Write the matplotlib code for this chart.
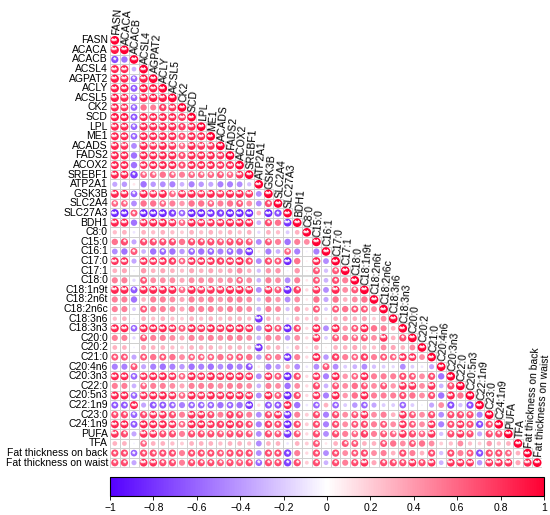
import numpy as np
import matplotlib
matplotlib.use('Agg')
import matplotlib.pyplot as plt
from matplotlib.patches import Circle, Rectangle
from matplotlib.colors import LinearSegmentedColormap, Normalize
from matplotlib.cm import ScalarMappable

plt.rcParams['font.family'] = ['Liberation Sans', 'DejaVu Sans']

# variable names (rows top->bottom, columns left->right)
labels = ['FASN', 'ACACA', 'ACACB', 'ACSL4', 'AGPAT2', 'ACLY', 'ACSL5', 'CK2', 'SCD', 'LPL',
          'ME1', 'ACADS', 'FADS2', 'ACOX2', 'SREBF1', 'ATP2A1', 'GSK3B', 'SLC2A4', 'SLC27A3',
          'BDH1', 'C8:0', 'C15:0', 'C16:1', 'C17:0', 'C17:1', 'C18:0', 'C18:1n9t', 'C18:2n6t',
          'C18:2n6c', 'C18:3n6', 'C18:3n3', 'C20:0', 'C20:2', 'C21:0', 'C20:4n6', 'C20:3n3',
          'C22:0', 'C20:5n3', 'C22:1n9', 'C23:0', 'C24:1n9', 'PUFA', 'TFA',
          'Fat thickness on back', 'Fat thickness on waist']

# lower triangle of the correlation matrix (row i has i+1 values)
corr_rows = [
    [1],
    [0.9, 1],
    [-0.7, -0.55, 1],
    [0.85, 0.85, -0.3, 1],
    [0.9, 0.85, -0.6, 0.9, 1],
    [0.9, 0.9, -0.65, 0.9, 0.9, 1],
    [0.9, 0.85, -0.6, 0.85, 0.9, 0.9, 1],
    [0.85, 0.8, -0.6, 0.55, 0.5, 0.75, 0.8, 1],
    [0.9, 0.9, -0.65, 0.85, 0.85, 0.85, 0.85, 0.8, 1],
    [0.85, 0.85, -0.6, 0.85, 0.85, 0.85, 0.85, 0.75, 0.85, 1],
    [0.85, 0.85, -0.6, 0.85, 0.85, 0.85, 0.85, 0.7, 0.85, 0.85, 1],
    [0.85, 0.8, -0.45, 0.85, 0.8, 0.85, 0.8, 0.6, 0.85, 0.8, 0.8, 1],
    [0.85, 0.85, -0.55, 0.85, 0.85, 0.85, 0.85, 0.7, 0.85, 0.85, 0.85, 0.8, 1],
    [0.85, 0.85, -0.55, 0.8, 0.85, 0.85, 0.85, 0.7, 0.85, 0.85, 0.85, 0.8, 0.85, 1],
    [0.85, 0.85, -0.75, 0.6, 0.6, 0.55, 0.6, 0.5, 0.6, 0.6, 0.6, 0.65, 0.6, 0.8, 1],
    [-0.35, -0.4, 0.1, -0.55, -0.4, -0.45, -0.5, -0.3, -0.5, -0.4, -0.35, -0.5, -0.5, -0.45,
     -0.25, 1],
    [0.85, 0.85, -0.6, 0.85, 0.8, 0.85, 0.6, 0.8, 0.85, 0.8, 0.85, 0.8, 0.85, 0.85, 0.8,
     -0.45, 1],
    [0.6, 0.6, -0.45, 0.55, 0.55, 0.6, 0.5, 0.4, 0.55, 0.55, 0.6, 0.5, 0.55, 0.65, 0.45,
     -0.45, 0.7, 1],
    [-0.85, -0.85, 0.65, -0.85, -0.85, -0.85, -0.75, -0.6, -0.85, -0.85, -0.8, -0.75, -0.85,
     -0.85, -0.85, 0.3, -0.85, -0.7, 1],
    [0.85, 0.85, -0.55, 0.8, 0.85, 0.85, 0.8, 0.6, 0.85, 0.8, 0.8, 0.8, 0.85, 0.85, 0.85,
     -0.3, 0.7, 0.55, -0.8, 1],
    [0.25, 0.3, -0.1, 0.3, 0.25, 0.3, 0.25, 0.2, 0.3, 0.25, 0.3, 0.25, 0.3, 0.25, 0.3,
     -0.15, 0.3, 0.25, -0.2, 0.3, 1],
    [0.55, 0.7, -0.35, 0.7, 0.7, 0.7, 0.7, 0.55, 0.7, 0.7, 0.7, 0.65, 0.7, 0.7, 0.65,
     -0.45, 0.65, 0.5, -0.55, 0.5, 0.45, 1],
    [-0.45, -0.55, 0.65, -0.3, -0.55, -0.6, -0.55, -0.4, -0.6, -0.55, -0.6, -0.5, -0.6, -0.55,
     -0.8, 0.1, -0.5, -0.3, 0.6, -0.5, -0.05, -0.5, 1],
    [0.8, 0.8, -0.35, 0.8, 0.8, 0.8, 0.75, 0.6, 0.8, 0.8, 0.8, 0.75, 0.8, 0.85, 0.7,
     -0.45, 0.7, 0.65, -0.85, 0.55, 0.05, 0.85, -0.45, 1],
    [0.3, 0.35, -0.05, 0.4, 0.3, 0.35, 0.3, 0.25, 0.35, 0.3, 0.35, 0.3, 0.35, 0.45, 0.3,
     -0.25, 0.4, 0.4, -0.05, 0.4, 0.05, 0.65, -0.25, 0.65, 1],
    [0.5, 0.5, -0.15, 0.65, 0.45, 0.45, 0.45, 0.35, 0.45, 0.45, 0.45, 0.4, 0.45, 0.6, 0.45,
     -0.3, 0.5, 0.45, -0.45, 0.5, 0.1, 0.65, -0.3, 0.7, 0.5, 1],
    [0.85, 0.85, -0.65, 0.85, 0.85, 0.85, 0.85, 0.6, 0.85, 0.8, 0.8, 0.8, 0.85, 0.85, 0.8,
     -0.45, 0.8, 0.65, -0.85, 0.75, 0.15, 0.8, -0.45, 0.85, 0.45, 0.65, 1],
    [0.5, 0.5, -0.55, 0.3, 0.5, 0.5, 0.45, 0.35, 0.5, 0.45, 0.5, 0.4, 0.5, 0.5, 0.45,
     -0.25, 0.5, 0.4, -0.45, 0.45, 0.1, 0.55, -0.35, 0.55, 0.3, 0.45, 0.55, 1],
    [0.5, 0.5, -0.2, 0.65, 0.5, 0.5, 0.45, 0.35, 0.5, 0.5, 0.5, 0.45, 0.5, 0.5, 0.45,
     -0.3, 0.5, 0.45, -0.25, 0.45, 0.2, 0.65, -0.2, 0.65, 0.55, 0.65, 0.65, 0.45, 1],
    [0.25, 0.3, -0.05, 0.3, 0.25, 0.3, 0.25, 0.2, 0.3, 0.25, 0.3, 0.25, 0.3, 0.3, 0.25,
     -0.8, 0.3, 0.25, -0.1, 0.3, 0.2, 0.3, 0.1, 0.3, 0.35, 0.3, 0.35, 0.2, 0.45, 1],
    [0.85, 0.85, -0.6, 0.85, 0.85, 0.85, 0.8, 0.65, 0.85, 0.8, 0.85, 0.8, 0.85, 0.85, 0.8,
     -0.45, 0.8, 0.65, -0.85, 0.7, 0.15, 0.85, -0.45, 0.85, 0.4, 0.65, 0.85, 0.55, 0.5, 0.3, 1],
    [0.5, 0.5, -0.15, 0.65, 0.5, 0.5, 0.45, 0.35, 0.5, 0.45, 0.5, 0.45, 0.5, 0.5, 0.45,
     -0.3, 0.5, 0.45, -0.4, 0.45, 0.15, 0.8, -0.2, 0.65, 0.5, 0.6, 0.65, 0.45, 0.8, 0.3,
     0.7, 1],
    [0.3, 0.3, -0.05, 0.35, 0.3, 0.3, 0.25, 0.2, 0.3, 0.3, 0.3, 0.25, 0.3, 0.3, 0.25,
     -0.8, 0.3, 0.3, -0.1, 0.3, 0.1, 0.3, 0.05, 0.3, 0.3, 0.35, 0.3, 0.25, 0.45, 0.35,
     0.3, 0.45, 1],
    [0.65, 0.65, -0.35, 0.65, 0.55, 0.65, 0.55, 0.45, 0.6, 0.6, 0.6, 0.55, 0.6, 0.65, 0.55,
     -0.4, 0.6, 0.5, -0.8, 0.5, 0.15, 0.85, -0.4, 0.75, 0.5, 0.6, 0.75, 0.5, 0.65, 0.6,
     0.8, 0.8, 0.45, 1],
    [-0.5, -0.5, 0.65, -0.35, -0.5, -0.55, -0.5, -0.4, -0.55, -0.5, -0.55, -0.45, -0.55, -0.5,
     -0.65, 0.1, -0.5, -0.4, 0.3, -0.45, -0.1, -0.45, 0.65, -0.45, -0.2, -0.3, -0.45, -0.25,
     -0.2, -0.15, -0.45, -0.2, -0.1, -0.35, 1],
    [0.85, 0.85, -0.6, 0.8, 0.85, 0.85, 0.8, 0.6, 0.85, 0.8, 0.85, 0.8, 0.85, 0.85, 0.8,
     -0.45, 0.8, 0.65, -0.85, 0.7, 0.15, 0.8, -0.5, 0.85, 0.4, 0.6, 0.85, 0.5, 0.5, 0.5,
     0.7, 0.65, 0.45, 0.7, -0.55, 1],
    [0.5, 0.5, -0.3, 0.6, 0.5, 0.5, 0.45, 0.35, 0.5, 0.5, 0.5, 0.45, 0.5, 0.5, 0.45,
     -0.3, 0.5, 0.45, -0.55, 0.45, 0.15, 0.7, -0.3, 0.65, 0.45, 0.55, 0.65, 0.45, 0.65, 0.4,
     0.8, 0.8, 0.45, 0.8, -0.3, 0.7, 1],
    [0.85, 0.85, -0.6, 0.8, 0.85, 0.85, 0.8, 0.6, 0.85, 0.8, 0.85, 0.8, 0.85, 0.85, 0.8,
     -0.45, 0.85, 0.65, -0.85, 0.7, 0.15, 0.8, -0.5, 0.85, 0.4, 0.55, 0.85, 0.5, 0.5, 0.5,
     0.7, 0.55, 0.45, 0.7, -0.55, 0.85, 0.55, 1],
    [-0.65, -0.65, 0.85, -0.35, -0.65, -0.65, -0.6, -0.5, -0.6, -0.6, -0.6, -0.55, -0.6, -0.55,
     -0.8, 0.15, -0.65, -0.65, 0.85, -0.55, -0.1, -0.6, 0.3, -0.6, -0.2, -0.4, -0.6, -0.35,
     -0.2, -0.2, -0.6, -0.2, -0.05, -0.35, 0.45, -0.7, -0.25, -0.7, 1],
    [0.7, 0.7, -0.6, 0.7, 0.8, 0.8, 0.7, 0.5, 0.8, 0.8, 0.7, 0.5, 0.75, 0.7, 0.5,
     -0.45, 0.7, 0.8, -0.8, 0.5, 0.2, 0.7, -0.5, 0.7, 0.45, 0.65, 0.8, 0.45, 0.5, 0.3,
     0.8, 0.65, 0.45, 0.7, -0.45, 0.7, 0.7, 0.7, -0.5, 1],
    [0.85, 0.85, -0.65, 0.85, 0.85, 0.85, 0.8, 0.6, 0.85, 0.85, 0.8, 0.75, 0.85, 0.75, 0.7,
     -0.5, 0.75, 0.7, -0.85, 0.7, 0.2, 0.7, -0.5, 0.7, 0.45, 0.65, 0.7, 0.5, 0.65, 0.45,
     0.8, 0.65, 0.45, 0.8, -0.5, 0.7, 0.8, 0.7, -0.7, 0.7, 1],
    [0.8, 0.7, -0.35, 0.8, 0.8, 0.7, 0.7, 0.5, 0.7, 0.7, 0.7, 0.65, 0.7, 0.7, 0.65,
     -0.45, 0.7, 0.65, -0.8, 0.65, 0.15, 0.7, -0.45, 0.7, 0.5, 0.6, 0.75, 0.5, 0.65, 0.6,
     0.8, 0.7, 0.6, 0.8, -0.25, 0.7, 0.8, 0.7, -0.35, 0.7, 0.7, 1],
    [0.3, 0.3, -0.05, 0.6, 0.3, 0.3, 0.25, 0.2, 0.3, 0.3, 0.3, 0.25, 0.3, 0.3, 0.25,
     -0.45, 0.3, 0.3, -0.1, 0.3, 0.2, 0.65, 0.1, 0.3, 0.65, 0.65, 0.3, 0.3, 0.65, 0.55,
     0.45, 0.65, 0.55, 0.45, 0.2, 0.25, 0.45, 0.25, 0.2, 0.4, 0.25, 0.3, 1],
    [0.7, 0.7, -0.6, 0.7, 0.7, 0.7, 0.7, 0.5, 0.7, 0.7, 0.7, 0.65, 0.7, 0.7, 0.7,
     -0.45, 0.7, 0.7, -0.75, 0.5, 0.15, 0.7, -0.45, 0.7, 0.45, 0.65, 0.7, 0.45, 0.5, 0.3,
     0.7, 0.5, 0.3, 0.7, -0.25, 0.7, 0.5, 0.65, -0.7, 0.7, 0.7, 0.6, 0.3, 1],
    [0.7, 0.7, -0.35, 0.8, 0.8, 0.7, 0.7, 0.5, 0.7, 0.7, 0.7, 0.65, 0.7, 0.65, 0.7,
     -0.6, 0.7, 0.7, -0.75, 0.7, 0.2, 0.7, -0.3, 0.7, 0.5, 0.7, 0.8, 0.35, 0.7, 0.7,
     0.7, 0.8, 0.7, 0.8, -0.3, 0.8, 0.8, 0.8, -0.4, 0.8, 0.8, 0.8, 0.35, 0.85, 1],
]
for i, row in enumerate(corr_rows):
    assert len(row) == i + 1, (i, len(row))

cb_ticks = [-1, -0.8, -0.6, -0.4, -0.2, 0, 0.2, 0.4, 0.6, 0.8, 1]
cb_labels = ['\u22121', '\u22120.8', '\u22120.6', '\u22120.4', '\u22120.2', '0',
             '0.2', '0.4', '0.6', '0.8', '1']

cmap = LinearSegmentedColormap.from_list('corr', ['#5500ff', '#ffffff', '#ff0033'])

W, H = 550, 515
n = len(labels)
cell = 9.6
x0, y0 = 110, 35.5

fig = plt.figure(figsize=(W / 100, H / 100), dpi=100)
ax = fig.add_axes([x0 / W, 1 - (y0 + n * cell) / H, n * cell / W, n * cell / H])
ax.set_xlim(-0.5, n - 0.5)
ax.set_ylim(n - 0.5, -0.5)
ax.axis('off')

for i, row in enumerate(corr_rows):
    for j, r in enumerate(row):
        ax.add_patch(Rectangle((j - 0.5, i - 0.5), 1, 1, fill=False,
                               ec='#cfcfcf', lw=0.6))
        ax.add_patch(Circle((j, i), 0.45 * np.sqrt(abs(r)),
                            fc=cmap((r + 1) / 2), ec='none'))
        # significance marks
        if abs(r) >= 0.8:
            mark = '**'
        elif abs(r) >= 0.6:
            mark = '*'
        else:
            mark = ''
        if mark:
            ax.text(j, i + 0.05, mark, color='white', fontsize=6.5,
                    fontweight='bold', ha='center', va='center')

for i, name in enumerate(labels):
    ax.text(-0.72, i, name, ha='right', va='center', fontsize=7.5)
    ax.text(i + 0.15, i - 0.58, name, ha='left', va='center', fontsize=7.5,
            rotation=86, rotation_mode='anchor')

# colour legend
cax = fig.add_axes([110 / W, 1 - 496 / H, 434 / W, 19 / H])
sm = ScalarMappable(norm=Normalize(-1, 1), cmap=cmap)
cb = fig.colorbar(sm, cax=cax, orientation='horizontal', ticks=cb_ticks)
cb.ax.set_xticklabels(cb_labels)
cb.ax.tick_params(length=3, width=0.6, labelsize=7.5, pad=2)
cb.outline.set_linewidth(0.8)

fig.savefig('out.png', dpi=100)
